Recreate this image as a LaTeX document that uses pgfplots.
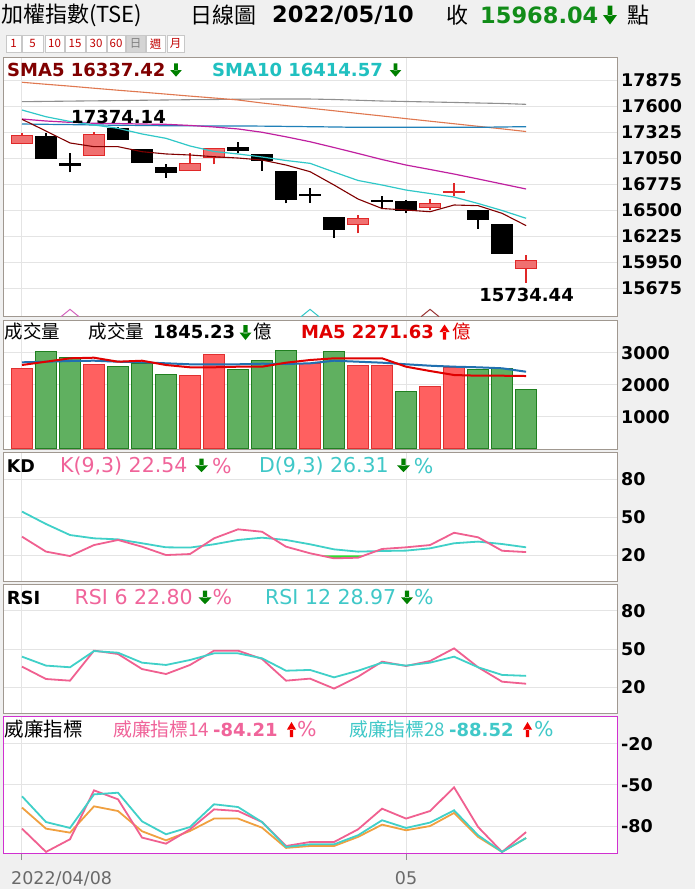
\documentclass[border=0pt]{standalone}
\usepackage{pgfplots}
\pgfplotsset{compat=1.18}
\usepackage{pgfplotstable}
\usepackage{fontspec}
\setmainfont{DejaVu Sans}
\newfontfamily\cjk{Noto Sans CJK TC}
\newcommand\fs[1]{\fontsize{#1pt}{#1pt}\selectfont}

\definecolor{bg}{HTML}{F0F0F0}
\definecolor{bord}{HTML}{A09890}
\definecolor{gridc}{HTML}{E4E4E4}
\definecolor{maroon}{HTML}{800000}
\definecolor{sma10}{HTML}{30C8C8}
\definecolor{sma10t}{HTML}{20C0C0}
\definecolor{magline}{HTML}{C020A0}
\definecolor{blueline}{HTML}{2080B8}
\definecolor{orangeline}{HTML}{E07850}
\definecolor{grayline}{HTML}{909090}
\definecolor{candred}{HTML}{E02828}
\definecolor{candfill}{HTML}{F07070}
\definecolor{volred}{HTML}{FF6060}
\definecolor{volredd}{HTML}{E03030}
\definecolor{volgreen}{HTML}{60B060}
\definecolor{volgreend}{HTML}{208020}
\definecolor{mared}{HTML}{E00000}
\definecolor{mablue}{HTML}{2070B0}
\definecolor{pinkl}{HTML}{F06090}
\definecolor{turql}{HTML}{40D0C8}
\definecolor{pinkt}{HTML}{F0649A}
\definecolor{turqt}{HTML}{40C8C8}
\definecolor{wor}{HTML}{F0A040}
\definecolor{arrgreen}{HTML}{008000}
\definecolor{arrred}{HTML}{F00000}
\definecolor{titlegreen}{HTML}{118C18}
\definecolor{wbord}{HTML}{D030D0}
\definecolor{btnred}{HTML}{C00000}
\definecolor{btnbord}{HTML}{C8C8C8}
\definecolor{lime}{HTML}{30E030}
\definecolor{datec}{HTML}{6A6A6A}
\definecolor{tickc}{HTML}{909090}

% arrows: x centre, y top, width, height, colour (pixel units, y down)
\newcommand\darr[5]{\fill[#5] ({#1-0.17*#3},#2) rectangle ({#1+0.17*#3},{#2+0.55*#4})
  ({#1-0.5*#3},{#2+0.5*#4}) -- ({#1+0.5*#3},{#2+0.5*#4}) -- (#1,{#2+#4}) -- cycle;}
\newcommand\uarr[5]{\fill[#5] (#1,#2) -- ({#1+0.5*#3},{#2+0.5*#4}) -- ({#1-0.5*#3},{#2+0.5*#4}) -- cycle
  ({#1-0.17*#3},{#2+0.45*#4}) rectangle ({#1+0.17*#3},{#2+#4});}

\pgfplotstableread{
x sma5 sma10 mag blu ora gry
0 17460 17558 17463 17410 17851 17646
1 17336 17487 17442 17407 17830 17649
2 17210 17437 17428 17404 17810 17652
3 17171 17400 17418 17400 17788 17655
4 17171 17365 17415 17397 17767 17657
5 17118 17305 17410 17395 17747 17661
6 17094 17259 17407 17392 17726 17664
7 17083 17178 17395 17391 17705 17667
8 17065 17120 17379 17390 17685 17669
9 17051 17094 17358 17389 17664 17672
10 17030 17062 17323 17388 17632 17674
11 16977 17025 17275 17385 17605 17674
12 16907 16995 17223 17382 17577 17674
13 16766 16903 17162 17379 17550 17669
14 16618 16814 17099 17375 17522 17661
15 16518 16766 17035 17375 17495 17653
16 16502 16713 16977 17375 17467 17648
17 16484 16676 16930 17375 17440 17643
18 16555 16639 16882 17375 17413 17638
19 16548 16571 16830 17375 17386 17632
20 16467 16497 16777 17379 17359 17627
21 16337.42 16414.57 16724 17382 17331 17618
}\mainma

\pgfplotstableread{
x ma5 ma10
0 2616 2700
1 2719 2719
2 2825 2741
3 2844 2750
4 2719 2719
5 2750 2700
6 2616 2669
7 2544 2638
8 2544 2638
9 2563 2638
10 2563 2656
11 2688 2647
12 2772 2669
13 2825 2750
14 2825 2719
15 2825 2688
16 2563 2638
17 2428 2594
18 2303 2563
19 2281 2544
20 2281 2513
21 2271.63 2406
}\voltab

\pgfplotstableread{
x k d rsi6 rsi12 w14 w28 wor
0 34.7 54.5 36.2 44.0 -81.7 -58.2 -66.4
1 22.9 44.7 26.5 37.0 -98.6 -76.9 -81.7
2 19.4 36.0 25.2 35.7 -89.4 -81.2 -84.6
3 28.1 33.4 48.7 48.4 -53.9 -56.8 -65.5
4 32.1 32.6 46.1 47.1 -60.4 -55.6 -68.9
5 26.8 29.5 34.3 39.3 -88.2 -76.4 -83.6
6 20.2 26.3 30.4 37.5 -92.6 -85.8 -90.2
7 21.0 26.1 37.5 41.4 -82.2 -80.5 -83.4
8 33.4 28.7 48.7 46.6 -67.7 -64.0 -74.4
9 40.5 32.1 48.7 46.6 -68.9 -66.0 -74.4
10 38.6 33.9 42.2 42.7 -76.9 -76.9 -81.0
11 26.8 32.1 25.2 33.0 -94.3 -95.0 -95.7
12 21.6 28.7 26.8 33.6 -91.4 -93.1 -94.3
13 17.6 24.7 19.0 27.8 -91.4 -93.1 -94.3
14 18.1 22.9 28.3 33.0 -82.2 -86.5 -87.7
15 25.0 23.4 40.1 39.3 -67.2 -75.6 -78.8
16 26.3 23.7 36.7 37.0 -74.4 -81.2 -82.9
17 28.1 25.5 40.6 39.3 -68.9 -77.3 -79.8
18 37.8 29.5 50.5 44.0 -51.7 -68.4 -70.3
19 34.2 30.8 35.7 35.7 -80.5 -86.5 -87.7
20 23.6 28.9 24.4 29.7 -98.6 -98.6 -98.6
21 22.54 26.31 22.80 28.97 -84.21 -88.52 -88.5
}\indtab

\pgfplotsset{
  panel/.style={
    scale only axis, anchor=north west, clip=true,
    xmin=-0.779, xmax=24.8,
    axis line style={draw=bord, line width=1pt},
    axis background/.style={fill=white},
    xtick={0,16}, xticklabels={},
    scaled y ticks=false,
    xmajorgrids, ymajorgrids,
    grid style={draw=gridc, line width=1pt},
    tick style={draw=none},
    major tick length=0pt,
    yticklabel pos=right,
    yticklabel style={font=\bfseries\fs{17.5}, anchor=west, inner xsep=0pt, xshift=3.7pt},
  },
  redbody/.style={fill=candfill, draw=candred, line width=1pt},
  blkbody/.style={fill=black, draw=black, line width=1pt},
}

\begin{document}
\begin{tikzpicture}
\begin{scope}[x=1pt,y=-1pt]
\fill[bg] (0,0) rectangle (695,889);
\useasboundingbox (0,0) rectangle (695,889);
\tikzset{t/.style={anchor=west, inner sep=0pt}}
% title row
\node[t, font=\cjk\fs{22}] at (1,15) {加權指數(TSE)};
\node[t, font=\cjk\fs{22}] at (190,15) {日線圖};
\node[t, font=\bfseries\fs{22.5}] at (272,15) {2022/05/10};
\node[t, font=\cjk\fs{22}] at (446,15) {收};
\node[t, font=\bfseries\fs{22.5}, text=titlegreen] at (480,15) {15968.04};
\darr{610}{5.5}{14}{19}{arrgreen}
\node[t, font=\cjk\fs{22}] at (627,15) {點};
% period buttons
\foreach \a/\b/\l in {6/21/1, 22/43/5, 45/64/10, 65/85/15, 86/106/30, 107/125/60, 146/165/週, 167/184/月}{
  \draw[draw=btnbord, fill=white] (\a,35.3) rectangle (\b,52);
  \node[font=\cjk\fs{11.5}, text=btnred, inner sep=0pt] at ({(\a+\b)/2},43.8) {\l};
}
\draw[draw=btnbord, fill=black!17] (126,35.3) rectangle (145,52);
\node[font=\cjk\fs{11.5}, text=black!50, inner sep=0pt] at (135.5,43.8) {日};
\end{scope}

% ---------------- price panel ----------------
\begin{axis}[panel, at={(3.3pt,-57.3pt)}, width=614pt, height=259.4pt,
  ymin=15375.4, ymax=18114.7,
  ytick={15675,15950,16225,16500,16775,17050,17325,17600,17875},
  yticklabels={15675,15950,16225,16500,16775,17050,17325,17600,17875}]
% signal markers at the bottom edge
\addplot[draw=magline!70, line width=1pt] coordinates {(1.625,15375.4) (2,15453) (2.375,15375.4)};
\addplot[draw=sma10, line width=1pt] coordinates {(11.625,15375.4) (12,15453) (12.375,15375.4)};
\addplot[draw=maroon!80, line width=1pt] coordinates {(16.625,15375.4) (17,15453) (17.375,15375.4)};
% wicks
\addplot[black, line width=1.8pt, unbounded coords=jump] coordinates {
 (1,17044) (1,17312) (1,nan) (2,16900) (2,17101) (2,nan) (4,17249) (4,17374.14) (4,nan)
 (6,16843) (6,16991) (6,nan) (9,17107) (9,17217) (9,nan) (10,16917) (10,17090) (10,nan)
 (11,16573) (11,16914) (11,nan) (12,16579) (12,16731) (12,nan) (13,16210) (13,16425) (13,nan)
 (15,16510) (15,16650) (15,nan) (16,16467) (16,16605) (16,nan) (19,16305) (19,16495)};
\addplot[candred, line width=1.8pt, unbounded coords=jump] coordinates {
 (0,17202) (0,17312) (0,nan) (3,17083) (3,17329) (3,nan) (7,16917) (7,17101) (7,nan)
 (8,16985) (8,17154) (8,nan) (14,16256) (14,16449) (14,nan) (17,16502) (17,16615) (17,nan)
 (18,16650) (18,16784) (18,nan) (21,15734.44) (21,16027)};
% bodies (open, close)
\addplot[redbody] coordinates {(-0.425,17202) (0.425,17202) (0.425,17284) (-0.425,17284)} -- cycle;
\addplot[blkbody] coordinates {(0.575,17276) (1.425,17276) (1.425,17044) (0.575,17044)} -- cycle;
\addplot[blkbody] coordinates {(1.575,16990) (2.425,16990) (2.425,16975) (1.575,16975)} -- cycle;
\addplot[redbody] coordinates {(2.575,17083) (3.425,17083) (3.425,17302) (2.575,17302)} -- cycle;
\addplot[blkbody] coordinates {(3.575,17358) (4.425,17358) (4.425,17249) (3.575,17249)} -- cycle;
\addplot[blkbody] coordinates {(4.575,17143) (5.425,17143) (5.425,17002) (4.575,17002)} -- cycle;
\addplot[blkbody] coordinates {(5.575,16953) (6.425,16953) (6.425,16900) (5.575,16900)} -- cycle;
\addplot[redbody] coordinates {(6.575,16917) (7.425,16917) (7.425,16995) (6.575,16995)} -- cycle;
\addplot[redbody] coordinates {(7.575,17059) (8.425,17059) (8.425,17154) (7.575,17154)} -- cycle;
\addplot[blkbody] coordinates {(8.575,17164) (9.425,17164) (9.425,17128) (8.575,17128)} -- cycle;
\addplot[blkbody] coordinates {(9.575,17090) (10.425,17090) (10.425,17020) (9.575,17020)} -- cycle;
\addplot[blkbody] coordinates {(10.575,16914) (11.425,16914) (11.425,16611) (10.575,16611)} -- cycle;
\addplot[blkbody] coordinates {(11.575,16666) (12.425,16666) (12.425,16656) (11.575,16656)} -- cycle;
\addplot[blkbody] coordinates {(12.575,16425) (13.425,16425) (13.425,16298) (12.575,16298)} -- cycle;
\addplot[redbody] coordinates {(13.575,16354) (14.425,16354) (14.425,16415) (13.575,16415)} -- cycle;
\addplot[blkbody] coordinates {(14.575,16602) (15.425,16602) (15.425,16592) (14.575,16592)} -- cycle;
\addplot[blkbody] coordinates {(15.575,16597) (16.425,16597) (16.425,16492) (15.575,16492)} -- cycle;
\addplot[redbody] coordinates {(16.575,16527) (17.425,16527) (17.425,16569) (16.575,16569)} -- cycle;
\addplot[redbody] coordinates {(17.575,16690) (18.425,16690) (18.425,16700) (17.575,16700)} -- cycle;
\addplot[blkbody] coordinates {(18.575,16495) (19.425,16495) (19.425,16400) (18.575,16400)} -- cycle;
\addplot[blkbody] coordinates {(19.575,16344) (20.425,16344) (20.425,16041) (19.575,16041)} -- cycle;
\addplot[redbody] coordinates {(20.575,15886) (21.425,15886) (21.425,15968.04) (20.575,15968.04)} -- cycle;
% moving averages
\addplot[grayline, line width=1.1pt] table[x=x, y=gry] {\mainma};
\addplot[orangeline, line width=1.1pt] table[x=x, y=ora] {\mainma};
\addplot[blueline, line width=1.2pt] table[x=x, y=blu] {\mainma};
\addplot[magline, line width=1.2pt] table[x=x, y=mag] {\mainma};
\addplot[sma10, line width=1.2pt] table[x=x, y=sma10] {\mainma};
\addplot[maroon, line width=1.1pt] table[x=x, y=sma5] {\mainma};
\end{axis}

% ---------------- volume panel ----------------
\begin{axis}[panel, at={(3.3pt,-320pt)}, width=614pt, height=129pt,
  ymin=-9, ymax=4022, ytick={1000,2000,3000}, yticklabels={1000,2000,3000}]
\addplot[ybar, bar width=20.4pt, bar shift=0pt, fill=volred, draw=volredd, line width=0.8pt] coordinates {
 (0,2512) (3,2637) (7,2303) (8,2950) (12,2668) (14,2615) (15,2615) (17,1959) (18,2531)};
\addplot[ybar, bar width=20.4pt, bar shift=0pt, fill=volgreen, draw=volgreend, line width=0.8pt] coordinates {
 (1,3053) (2,2844) (4,2584) (5,2668) (6,2325) (9,2490) (10,2772) (11,3084) (13,3053) (16,1803)
 (19,2490) (20,2512) (21,1845.23)};
\addplot[mablue, line width=2pt] table[x=x, y=ma10] {\voltab};
\addplot[mared, line width=2pt] table[x=x, y=ma5] {\voltab};
\end{axis}

% ---------------- KD panel ----------------
\begin{axis}[panel, at={(3.3pt,-452.3pt)}, width=614pt, height=129.4pt,
  ymin=-0.84, ymax=101.3, ytick={20,50,80}, yticklabels={20,50,80}]
\addplot[fill=lime, draw=none] coordinates {(12.4,20) (13,17.6) (14,18.1) (14.2,20)} -- cycle;
\addplot[turql, line width=1.8pt] table[x=x, y=d] {\indtab};
\addplot[pinkl, line width=1.8pt] table[x=x, y=k] {\indtab};
\end{axis}

% ---------------- RSI panel ----------------
\begin{axis}[panel, at={(3.3pt,-584pt)}, width=614pt, height=129.3pt,
  ymin=-0.36, ymax=100.9, ytick={20,50,80}, yticklabels={20,50,80}]
\addplot[pinkl, line width=1.8pt] table[x=x, y=rsi6] {\indtab};
\addplot[turql, line width=1.8pt] table[x=x, y=rsi12] {\indtab};
\end{axis}

% ---------------- Williams %R panel ----------------
\begin{axis}[panel, at={(3.3pt,-716pt)}, width=614pt, height=137pt,
  axis line style={draw=wbord, line width=1pt},
  ymin=-99.4, ymax=0.1, ytick={-80,-50,-20}, yticklabels={-80,-50,-20},
  xtick pos=lower, xtick align=outside, major tick length=7pt,
  xtick style={draw=tickc, line width=1pt}, ytick style={draw=none}]
\addplot[wor, line width=1.8pt] table[x=x, y=wor] {\indtab};
\addplot[pinkl, line width=1.8pt] table[x=x, y=w14] {\indtab};
\addplot[turql, line width=1.8pt] table[x=x, y=w28] {\indtab};
\end{axis}

\begin{scope}[x=1pt,y=-1pt]
\tikzset{t/.style={anchor=west, inner sep=0pt}}
% price panel header and labels
\node[t, font=\bfseries\fs{18}, text=maroon] at (7,70) {SMA5 16337.42};
\darr{176}{63.3}{11.7}{13.4}{arrgreen}
\node[t, font=\bfseries\fs{18}, text=sma10t] at (212,70) {SMA10 16414.57};
\darr{395.5}{63.3}{11.7}{13.4}{arrgreen}
\node[font=\bfseries\fs{18}, inner sep=0pt] at (118.5,116.5) {17374.14};
\node[font=\bfseries\fs{18}, inner sep=0pt] at (526.5,295) {15734.44};
% volume header
\node[t, font=\cjk\fs{18.5}] at (4.4,331.5) {成交量};
\node[t, font=\cjk\fs{18.5}] at (88.6,331.5) {成交量};
\node[t, font=\bfseries\fs{18}] at (153,331.5) {1845.23};
\darr{245.5}{325}{12}{15}{arrgreen}
\node[t, font=\cjk\fs{18.5}] at (253.5,331.5) {億};
\node[t, font=\bfseries\fs{18}, text=mared] at (301,331.5) {MA5 2271.63};
\uarr{444.5}{324.5}{10}{15}{arrred}
\node[t, font=\cjk\fs{18.5}, text=mared] at (452,331.5) {億};
% KD header
\node[t, font=\bfseries\fs{17.5}] at (6.6,465.7) {KD};
\node[t, font=\fs{20.5}, text=pinkt] at (60,465.7) {K(9,3) 22.54};
\darr{201.5}{458.5}{13}{13.7}{arrgreen}
\node[t, font=\fs{20.5}, text=pinkt] at (212,465.7) {\%};
\node[t, font=\fs{20.5}, text=turqt] at (259,465.7) {D(9,3) 26.31};
\darr{403.5}{458.5}{13}{13.7}{arrgreen}
\node[t, font=\fs{20.5}, text=turqt] at (413.6,465.7) {\%};
% RSI header
\node[t, font=\bfseries\fs{18}] at (6.6,597.5) {RSI};
\node[t, font=\fs{20.5}, text=pinkt] at (74.5,597.5) {RSI 6 22.80};
\darr{205}{590.5}{13}{13.7}{arrgreen}
\node[t, font=\fs{20.5}, text=pinkt] at (212.5,597.5) {\%};
\node[t, font=\fs{20.5}, text=turqt] at (265,597.5) {RSI 12 28.97};
\darr{407}{590.5}{12}{13.7}{arrgreen}
\node[t, font=\fs{20.5}, text=turqt] at (414,597.5) {\%};
% Williams header
\node[t, font=\cjk\fs{19.5}] at (4.4,729.5) {威廉指標};
\node[t, font=\cjk\fs{18.8}, text=pinkt] at (113,729.5) {威廉指標14};
\node[t, font=\bfseries\fs{18}, text=pinkt] at (213,729.5) {-84.21};
\uarr{291.5}{722}{9}{15}{arrred}
\node[t, font=\fs{20.5}, text=pinkt] at (297,729.5) {\%};
\node[t, font=\cjk\fs{18.8}, text=turqt] at (349,729.5) {威廉指標28};
\node[t, font=\bfseries\fs{18}, text=turqt] at (449,729.5) {-88.52};
\uarr{527.5}{722}{9}{15}{arrred}
\node[t, font=\fs{20.5}, text=turqt] at (534,729.5) {\%};
% date labels
\node[t, font=\fs{17.5}, text=datec] at (11,878.5) {2022/04/08};
\node[font=\fs{17.5}, text=datec, inner sep=0pt] at (406,878.5) {05};
\end{scope}
\end{tikzpicture}
\end{document}
